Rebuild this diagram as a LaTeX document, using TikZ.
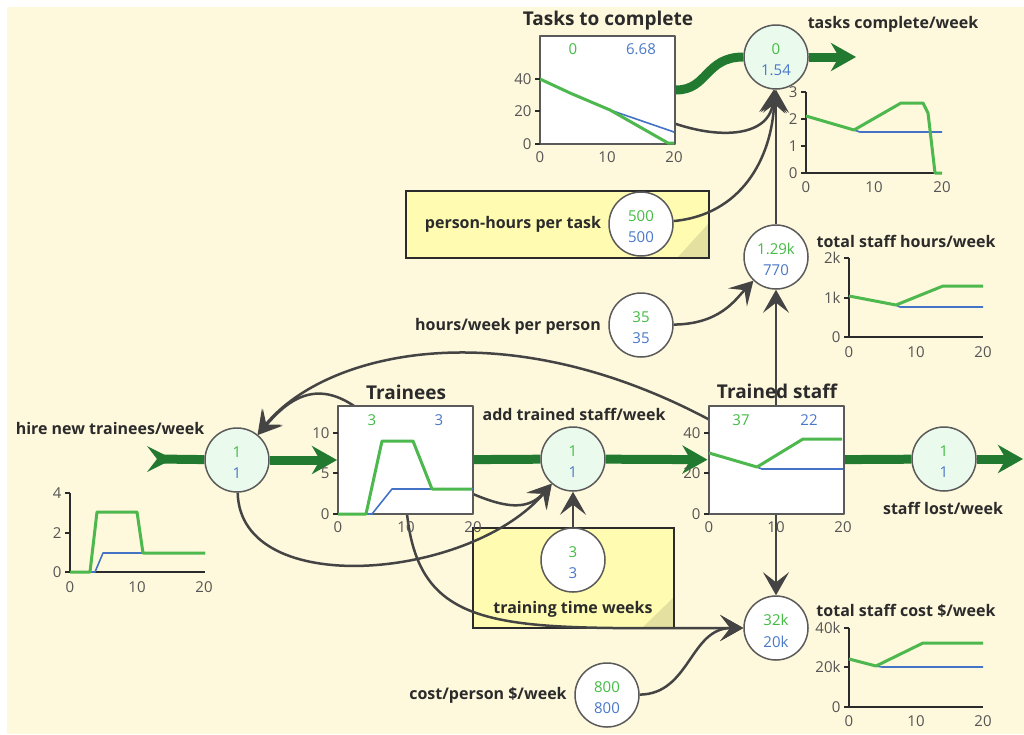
\documentclass[tikz,border=0pt]{standalone}
\usepackage{fontspec}
\setmainfont{Open Sans}
\usetikzlibrary{arrows.meta}
\pgfdeclarelayer{under}
\pgfdeclarelayer{wires}
\pgfsetlayers{under,wires,main}
\definecolor{cream}{HTML}{FEF8DC}
\definecolor{pipegreen}{HTML}{217A30}
\definecolor{mint}{HTML}{EAFBEE}
\definecolor{valgreen}{HTML}{44BB44}
\definecolor{valblue}{HTML}{4A78C8}
\definecolor{linkgray}{HTML}{444444}
\definecolor{notefill}{HTML}{FFFCB2}
\definecolor{notefold}{HTML}{E4E0A0}
\definecolor{plotgreen}{HTML}{4DB84D}
\definecolor{plotblue}{HTML}{4472C4}
\definecolor{tickgray}{HTML}{555555}
\definecolor{inkgray}{HTML}{2B2B2B}
\definecolor{rimgray}{HTML}{5A5A5A}
\begin{document}
\begin{tikzpicture}[x=1pt,y=-1pt,line join=round,
  flowpipe/.style={draw=pipegreen,line width=9pt},
  flowhead/.style={-{Stealth[length=25pt,width=28pt,inset=8pt]}},
  link/.style={draw=linkgray,line width=2.5pt,-{Stealth[length=23pt,width=26pt,inset=10pt]}},
  stockbox/.style={rectangle,draw=rimgray,line width=2pt,fill=white,minimum width=135pt,minimum height=108pt,inner sep=0pt},
  valve/.style={circle,draw=rimgray,line width=1.5pt,fill=mint,minimum size=64pt,inner sep=0pt},
  auxvar/.style={circle,draw=rimgray,line width=1.5pt,fill=white,minimum size=64pt,inner sep=0pt},
  notebox/.style={draw=inkgray,line width=1.5pt,fill=notefill},
  lbl/.style={font=\fontsize{16}{19}\selectfont\bfseries,text=inkgray},
  ttl/.style={font=\fontsize{19}{22}\selectfont\bfseries,text=inkgray},
  valg/.style={font=\fontsize{15}{17}\selectfont,text=valgreen},
  valb/.style={font=\fontsize{15}{17}\selectfont,text=valblue},
  tick/.style={font=\fontsize{15}{17}\selectfont,text=tickgray},
  tickmark/.style={draw=inkgray,line width=1.5pt},
  axis/.style={draw=inkgray,line width=2pt},
  greenline/.style={draw=plotgreen,line width=3pt},
  blueline/.style={draw=plotblue,line width=1.6pt}]
\useasboundingbox (0,0) rectangle (1024,734);

% ---------- backdrop and notes ----------
\begin{pgfonlayer}{under}
  \fill[white] (0,0) rectangle (1024,734);
  \fill[cream] (7,7) rectangle (1024,734);
  \draw[notebox] (406,191) rectangle (709,258);
  \fill[notefold] (677,258) -- (709,258) -- (709,223) -- cycle;
  \draw[inkgray,line width=1.5pt] (406,191) rectangle (709,258);
  \draw[notebox] (473,528) rectangle (674,628);
  \fill[notefold] (642,628) -- (674,628) -- (674,597) -- cycle;
  \draw[inkgray,line width=1.5pt] (473,528) rectangle (674,628);
\end{pgfonlayer}

% ---------- stocks ----------
\node[stockbox] (tasks) at (607.5,90) {};
\node[stockbox] (trainees) at (405.5,460) {};
\node[stockbox] (trained) at (776,460) {};
\node[ttl] at (608,21) {Tasks to complete};
\node[ttl] at (406,392) {Trainees};
\node[ttl] at (777,391) {Trained staff};

% ---------- flows ----------
\node[valve] (hire) at (237,460) {};
\node[valve] (add) at (573,459) {};
\node[valve] (lost) at (944,459) {};
\node[valve] (complete) at (776,57) {};
\coordinate (src) at (158,459);
\coordinate (sinkR) at (1023,459);
\coordinate (sinkT) at (856,57);

% ---------- auxiliaries ----------
\node[auxvar] (phours) at (641,224) {};
\node[auxvar] (hours) at (776,257) {};
\node[auxvar] (hpp) at (641,325) {};
\node[auxvar] (training) at (573,560) {};
\node[auxvar] (cost) at (776,628) {};
\node[auxvar] (cpp) at (607,695) {};

% ---------- values ----------
\foreach \n/\g/\b in {hire/1/1,add/1/1,lost/1/1,complete/0/1.54,phours/500/500,
    hours/1.29k/770,hpp/35/35,training/3/3,cost/32k/20k,cpp/800/800} {
  \node[valg] at ([yshift=8pt]\n.center) {\g};
  \node[valb] at ([yshift=-13.5pt]\n.center) {\b};
}
\node[valg] at (573,49) {0};   \node[valb] at (641,49) {6.68};
\node[valg] at (372,420) {3};  \node[valb] at (439,420) {3};
\node[valg] at (741,420) {37}; \node[valb] at (809,420) {22};

% ---------- labels ----------
\node[lbl] at (893,24) {tasks complete/week};
\node[lbl] at (513,224) {person-hours per task};
\node[lbl] at (906,241) {total staff hours/week};
\node[lbl] at (508,326) {hours/week per person};
\node[lbl] at (110,428) {hire new trainees/week};
\node[lbl] at (574,414) {add trained staff/week};
\node[lbl] at (943,508) {staff lost/week};
\node[lbl] at (573,609) {training time weeks};
\node[lbl] at (906,611) {total staff cost \$/week};
\node[lbl] at (488,695) {cost/person \$/week};

% ---------- pipes and links (under the stocks and valves) ----------
\begin{pgfonlayer}{wires}
  \fill[pipegreen] (147,446) -- (173,459) -- (147,472) -- (157,459) -- cycle;
  \draw[flowpipe] (src) -- (hire);
  \draw[flowpipe,flowhead] (hire) -- (trainees);
  \draw[flowpipe] (trainees) -- (add);
  \draw[flowpipe,flowhead] (add) -- (trained);
  \draw[flowpipe] (trained) -- (lost);
  \draw[flowpipe,flowhead] (lost) -- (sinkR);
  \draw[flowpipe] (tasks.center) -- (tasks.east) .. controls (708,90) and (705,57) .. (complete);
  \draw[flowpipe,flowhead] (complete) -- (sinkT);

  \draw[link] (trained.center) .. controls (540,300) and (330,345) .. (hire);
  \draw[link] (trainees.center) .. controls (340,370) and (300,385) .. (hire);
  \draw[link] (hire) .. controls (240,600) and (470,580) .. (add);
  \draw[link] (trainees.center) .. controls (480,500) and (520,520) .. (add);
  \draw[link] (training) -- (add);
  \draw[link] (trainees.center) .. controls (400,640) and (480,628) .. (cost);
  \draw[link] (cpp) .. controls (690,694) and (690,628) .. (cost);
  \draw[link] (trained.center) -- (cost);
  \draw[link] (trained.center) -- (hours);
  \draw[link] (hpp) .. controls (720,324) and (735,300) .. (hours);
  \draw[link] (hours) -- (complete);
  \draw[link] (phours) .. controls (740,215) and (772,160) .. (complete);
  \draw[link] (tasks.center) .. controls (690,145) and (770,145) .. (complete);
\end{pgfonlayer}

% ---------- graph: Tasks to complete ----------
\draw[blueline] (540,79) -- (570,93) -- (610,110) -- (674,132);
\draw[greenline] (540,79) -- (570,93) -- (610,110) -- (668,143) -- (674,143);
\foreach \v/\y in {0/144,20/111,40/79} {
  \draw[tickmark] (535,\y) -- (540,\y);
  \node[tick,anchor=east] at (535,\y) {\v};
}
\foreach \v/\x in {0/540,10/607,20/674} { \node[tick] at (\x,157) {\v}; }

% ---------- graph: Trainees ----------
\draw[blueline] (338,514) -- (372,514) -- (392,489) -- (473,489);
\draw[greenline] (338,514) -- (366,514) -- (382,441) -- (413,441) -- (432,489) -- (472,489);
\foreach \v/\y in {0/514,5/473,10/433} {
  \draw[tickmark] (333,\y) -- (338,\y);
  \node[tick,anchor=east] at (333,\y) {\v};
}
\foreach \v/\x in {0/338,10/406,20/473} { \node[tick] at (\x,527) {\v}; }

% ---------- graph: Trained staff ----------
\draw[blueline] (709,453) -- (757,467) -- (762,469) -- (843,469);
\draw[greenline] (709,453) -- (757,467) -- (803,439) -- (842,439);
\foreach \v/\y in {0/514,20/473,40/433} {
  \draw[tickmark] (704,\y) -- (709,\y);
  \node[tick,anchor=east] at (704,\y) {\v};
}
\foreach \v/\x in {0/709,10/776,20/843} { \node[tick] at (\x,527) {\v}; }

% ---------- graph: tasks complete/week ----------
\draw[axis] (806,92) -- (806,173) -- (942,173);
\draw[blueline] (806,116) -- (854,130) -- (860,132) -- (942,132);
\draw[greenline] (806,116) -- (854,130) -- (901,103) -- (923,103) -- (928,113) -- (935,173) -- (942,173);
\foreach \v/\y in {0/173,1/146,2/119,3/92} {
  \draw[tickmark] (801,\y) -- (806,\y);
  \node[tick,anchor=east] at (801,\y) {\v};
}
\foreach \v/\x in {0/806,10/874,20/942} { \node[tick] at (\x,187) {\v}; }

% ---------- graph: total staff hours/week ----------
\draw[axis] (849,258) -- (849,337) -- (983,337);
\draw[blueline] (849,296) -- (896,305) -- (900,307) -- (983,307);
\draw[greenline] (849,296) -- (896,305) -- (943,286) -- (983,286);
\foreach \v/\y in {0/337,1k/298,2k/258} {
  \draw[tickmark] (844,\y) -- (849,\y);
  \node[tick,anchor=east] at (844,\y) {\v};
}
\foreach \v/\x in {0/849,10/916,20/983} { \node[tick] at (\x,352) {\v}; }

% ---------- graph: total staff cost $/week ----------
\draw[axis] (849,628) -- (849,707) -- (983,707);
\draw[blueline] (849,659) -- (876,666) -- (882,667) -- (983,667);
\draw[greenline] (849,659) -- (876,666) -- (923,643) -- (983,643);
\foreach \v/\y in {0/707,20k/667,40k/628} {
  \draw[tickmark] (844,\y) -- (849,\y);
  \node[tick,anchor=east] at (844,\y) {\v};
}
\foreach \v/\x in {0/849,10/916,20/983} { \node[tick] at (\x,721) {\v}; }

% ---------- graph: hire new trainees/week ----------
\draw[axis] (70,493) -- (70,572) -- (205,572);
\draw[blueline] (70,572) -- (95,572) -- (103,553) -- (205,553);
\draw[greenline] (70,572) -- (90,572) -- (97,512) -- (137,512) -- (143,553) -- (205,553);
\foreach \v/\y in {0/572,2/533,4/493} {
  \draw[tickmark] (65,\y) -- (70,\y);
  \node[tick,anchor=east] at (65,\y) {\v};
}
\foreach \v/\x in {0/70,10/137,20/204} { \node[tick] at (\x,587) {\v}; }
\end{tikzpicture}
\end{document}
